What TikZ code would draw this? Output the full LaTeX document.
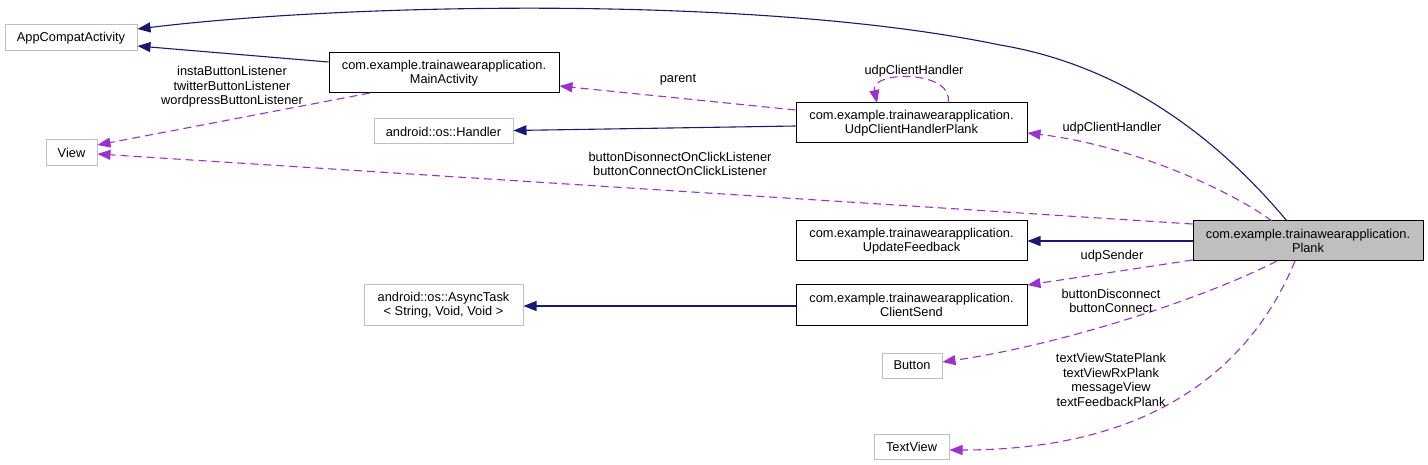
\documentclass[tikz,border=0pt]{standalone}
\usepackage{fontspec}
\setmainfont{Liberation Sans}
\usetikzlibrary{arrows.meta}
\definecolor{navy}{HTML}{191970}
\definecolor{orchid}{HTML}{9A32CD}
\definecolor{greyb}{HTML}{BFBFBF}
\begin{document}
\begin{tikzpicture}[x=1pt,y=-1pt,
  font=\fontsize{12.8}{14.5}\selectfont,
  box/.style={draw=black,line width=1pt,inner sep=0pt,align=center,text=black},
  gbox/.style={draw=greyb,line width=1pt,inner sep=0pt,align=center,text=black},
  inh/.style={draw=navy,line width=1.1pt,-{Triangle[length=13pt,width=10pt]},color=navy},
  use/.style={draw=orchid,line width=1.1pt,dash pattern=on 8pt off 5pt,-{Triangle[length=13pt,width=10pt]},color=orchid},
  lab/.style={align=center,text=black,inner sep=0pt}]
\useasboundingbox (0,0) rectangle (1428,465);
\fill[white] (0,0) rectangle (1428,465);
% nodes
\node[gbox,minimum width=132pt,minimum height=26pt] (app) at (71,38) {AppCompatActivity};
\node[box,minimum width=230pt,minimum height=40pt] (main) at (444,73) {com.example.trainawearapplication.\\MainActivity};
\node[gbox,minimum width=51pt,minimum height=26pt] (view) at (71.5,153) {View};
\node[gbox,minimum width=139pt,minimum height=25pt] (handler) at (443.5,131.5) {android::os::Handler};
\node[box,minimum width=231pt,minimum height=40pt] (udp) at (911.5,123) {com.example.trainawearapplication.\\UdpClientHandlerPlank};
\node[box,fill=greyb,minimum width=230pt,minimum height=40pt] (plank) at (1308,241) {com.example.trainawearapplication.\\Plank};
\node[box,minimum width=231pt,minimum height=40pt] (upd) at (911.5,241) {com.example.trainawearapplication.\\UpdateFeedback};
\node[gbox,minimum width=159pt,minimum height=40pt] (async) at (443.5,305) {android::os::AsyncTask\\< String, Void, Void >};
\node[box,minimum width=231pt,minimum height=40pt] (client) at (911.5,305) {com.example.trainawearapplication.\\ClientSend};
\node[gbox,minimum width=60pt,minimum height=25pt] (button) at (912,365.5) {Button};
\node[gbox,minimum width=75pt,minimum height=25pt] (textview) at (911.5,446.5) {TextView};
% anchors
\coordinate (pTop) at (1287,221);
\coordinate (pTopB) at (1272,221);
\coordinate (mid1) at (1000,45);
% inheritance edges
\draw[inh] (pTop) .. controls (1215,135) and (1120,65) .. (mid1) .. controls (760,-5) and (350,3) .. (app.east |- 0,29);
\draw[inh] (main.west |- 0,62) -- (app.east |- 0,46);
\draw[inh] (udp.west |- 0,126) -- (handler.east |- 0,130.5);
\draw[inh] (plank.west) -- (upd.east);
\draw[inh] (client.west |- 0,306) -- (async.east |- 0,306);
% usage edges
\draw[use] (370,93) -- (view.east |- 0,145);
\draw[use] (udp.west |- 0,110) -- (main.east |- 0,86);
\draw[use] (948,103) .. controls (955,70) and (870,70) .. (877,103);
\draw[use] (pTopB) .. controls (1230,190) and (1130,145) .. (udp.east |- 0,133);
\draw[use] (plank.west |- 0,224) -- (view.east |- 0,154);
\draw[use] (plank.west |- 0,260) -- (client.east |- 0,285);
\draw[use] (1277,261) .. controls (1200,300) and (1060,345) .. (button.east |- 0,362);
\draw[use] (1295,261) .. controls (1250,370) and (1150,450) .. (textview.east |- 0,450);
% labels
\node[lab] (l1) at (232,87) {instaButtonListener\\twitterButtonListener\\wordpressButtonListener};
\node[lab] (l2) at (678,80) {parent};
\node[lab] (l3) at (914,71) {udpClientHandler};
\node[lab] (l4) at (1112,128) {udpClientHandler};
\node[lab] (l5) at (680,164) {buttonDisonnectOnClickListener\\buttonConnectOnClickListener};
\node[lab] (l6) at (1112,256) {udpSender};
\node[lab] (l7) at (1111,301) {buttonDisconnect\\buttonConnect};
\node[lab] (l8) at (1111,380) {textViewStatePlank\\textViewRxPlank\\messageView\\textFeedbackPlank};
\end{tikzpicture}
\end{document}
